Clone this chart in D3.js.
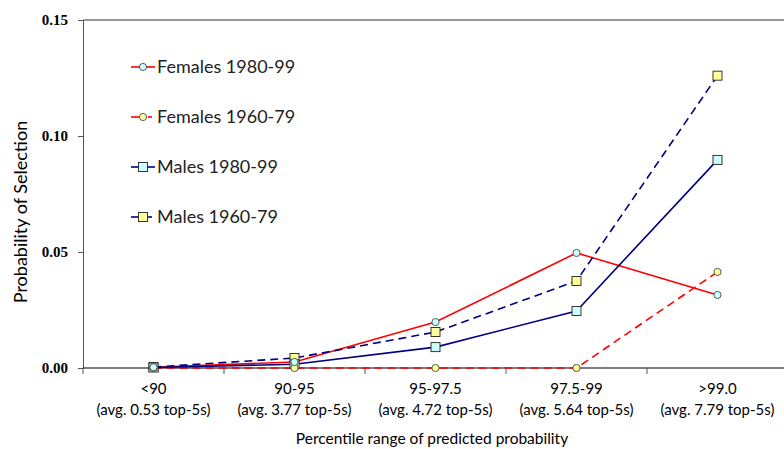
<!DOCTYPE html>
<html>
<head>
<meta charset="utf-8">
<script src="https://cdn.jsdelivr.net/npm/d3@7"></script>
<style>
  body { margin: 0; background: #fff; }
  svg { font-family: Lato, "Open Sans", sans-serif; }
</style>
</head>
<body>
<svg id="chart" width="784" height="449"></svg>
<script>
const categories = ["<90", "90-95", "95-97.5", "97.5-99", ">99.0"];
const subLabels = ["(avg. 0.53 top-5s)", "(avg. 3.77 top-5s)", "(avg. 4.72 top-5s)", "(avg. 5.64 top-5s)", "(avg. 7.79 top-5s)"];
const yTicks = [0, 0.05, 0.10, 0.15];

const females8099 = [0.0003, 0.0026, 0.0198, 0.0496, 0.0315];
const females6079 = [0, 0, 0, 0, 0.0414];
const males8099 = [0.0002, 0.0016, 0.0090, 0.0246, 0.0897];
const males6079 = [0.0004, 0.0043, 0.0155, 0.0375, 0.1260];

const series = [
  { name: "Females 1980-99", values: females8099, color: "#ff0000", dash: null, shape: "circle", fill: "#ccffff" },
  { name: "Females 1960-79", values: females6079, color: "#ff0000", dash: "8,5", shape: "circle", fill: "#ffff99" },
  { name: "Males 1980-99", values: males8099, color: "#000080", dash: null, shape: "square", fill: "#ccffff" },
  { name: "Males 1960-79", values: males6079, color: "#000080", dash: "8,5", shape: "square", fill: "#ffff99" }
];

const svg = d3.select("#chart");
const mLeft = 83, mTop = 20, mBottom = 368, mRight = 788;

const x = d3.scaleBand().domain(categories).range([mLeft, mRight]);
const y = d3.scaleLinear().domain([0, 0.15]).range([mBottom, mTop]);

// top border
svg.append("line")
  .attr("x1", mLeft).attr("x2", 784).attr("y1", mTop).attr("y2", mTop)
  .attr("stroke", "#333").attr("stroke-width", 1.2);

// y axis
const yAxis = svg.append("g")
  .attr("transform", `translate(${mLeft},0)`)
  .call(d3.axisLeft(y).tickValues(yTicks).tickFormat(d3.format(".2f")).tickSize(5).tickPadding(10));
yAxis.select(".domain").attr("stroke", "#555");
yAxis.selectAll(".tick line").attr("stroke", "#555");
yAxis.selectAll("text").attr("font-size", 15).attr("font-weight", "bold")
  .attr("font-family", "'Liberation Serif', serif").attr("fill", "#000");

// x axis
const xAxis = svg.append("g")
  .attr("transform", `translate(0,${mBottom})`);
xAxis.append("line").attr("x1", mLeft).attr("x2", 784).attr("stroke", "#000").attr("stroke-width", 1.2);
xAxis.selectAll("line.tk")
  .data(categories.slice(1))
  .enter().append("line")
  .attr("class", "tk")
  .attr("x1", d => x(d)).attr("x2", d => x(d))
  .attr("y1", 0).attr("y2", 6)
  .attr("stroke", "#555");
xAxis.append("line").attr("x1", mLeft).attr("x2", mLeft).attr("y1", 0).attr("y2", 6).attr("stroke", "#555");

const catG = xAxis.selectAll("g.cat")
  .data(categories)
  .enter().append("g")
  .attr("transform", d => `translate(${x(d) + x.bandwidth() / 2},0)`);
catG.append("text").attr("y", 26).attr("text-anchor", "middle")
  .attr("font-size", 15).attr("fill", "#000").text(d => d);
catG.append("text").attr("y", 47).attr("text-anchor", "middle")
  .attr("font-size", 15).attr("fill", "#000").text((d, i) => subLabels[i]);

// axis titles
svg.append("text")
  .attr("x", 432).attr("y", 444).attr("text-anchor", "middle")
  .attr("font-size", 15.5).attr("fill", "#000").text("Percentile range of predicted probability");
svg.append("text")
  .attr("transform", "translate(27,212) rotate(-90)")
  .attr("text-anchor", "middle")
  .attr("font-size", 18).attr("fill", "#000").text("Probability of Selection");

// lines
const line = d3.line()
  .x((d, i) => x(categories[i]) + x.bandwidth() / 2)
  .y(d => y(d));

series.forEach(s => {
  svg.append("path")
    .datum(s.values)
    .attr("fill", "none")
    .attr("stroke", s.color)
    .attr("stroke-width", 1.6)
    .attr("stroke-dasharray", s.dash)
    .attr("d", line);
});

function drawMarker(g, s, cx, cy) {
  if (s.shape === "circle") {
    g.append("circle").attr("cx", cx).attr("cy", cy).attr("r", 3.6)
      .attr("fill", s.fill).attr("stroke", "#333").attr("stroke-width", 0.8);
  } else {
    g.append("rect").attr("x", cx - 4.5).attr("y", cy - 4.5).attr("width", 9).attr("height", 9)
      .attr("fill", s.fill).attr("stroke", "#222").attr("stroke-width", 0.9);
  }
}

// markers
[...series].reverse().forEach(s => {
  const g = svg.append("g");
  s.values.forEach((v, i) => drawMarker(g, s, x(categories[i]) + x.bandwidth() / 2, y(v)));
});

// legend
const legend = svg.append("g");
series.forEach((s, i) => {
  const ly = 67 + i * 50;
  const g = legend.append("g");
  if (s.dash) {
    g.append("line").attr("x1", 131).attr("x2", 139).attr("y1", ly).attr("y2", ly)
      .attr("stroke", s.color).attr("stroke-width", 1.6);
    g.append("line").attr("x1", 148).attr("x2", 152).attr("y1", ly).attr("y2", ly)
      .attr("stroke", s.color).attr("stroke-width", 1.6);
  } else {
    g.append("line").attr("x1", 131).attr("x2", 155).attr("y1", ly).attr("y2", ly)
      .attr("stroke", s.color).attr("stroke-width", 1.6);
  }
  drawMarker(g, s, 143, ly);
  g.append("text").attr("x", 157).attr("y", ly + 6)
    .attr("font-size", 18).attr("fill", "#222").text(s.name);
});
</script>
</body>
</html>
